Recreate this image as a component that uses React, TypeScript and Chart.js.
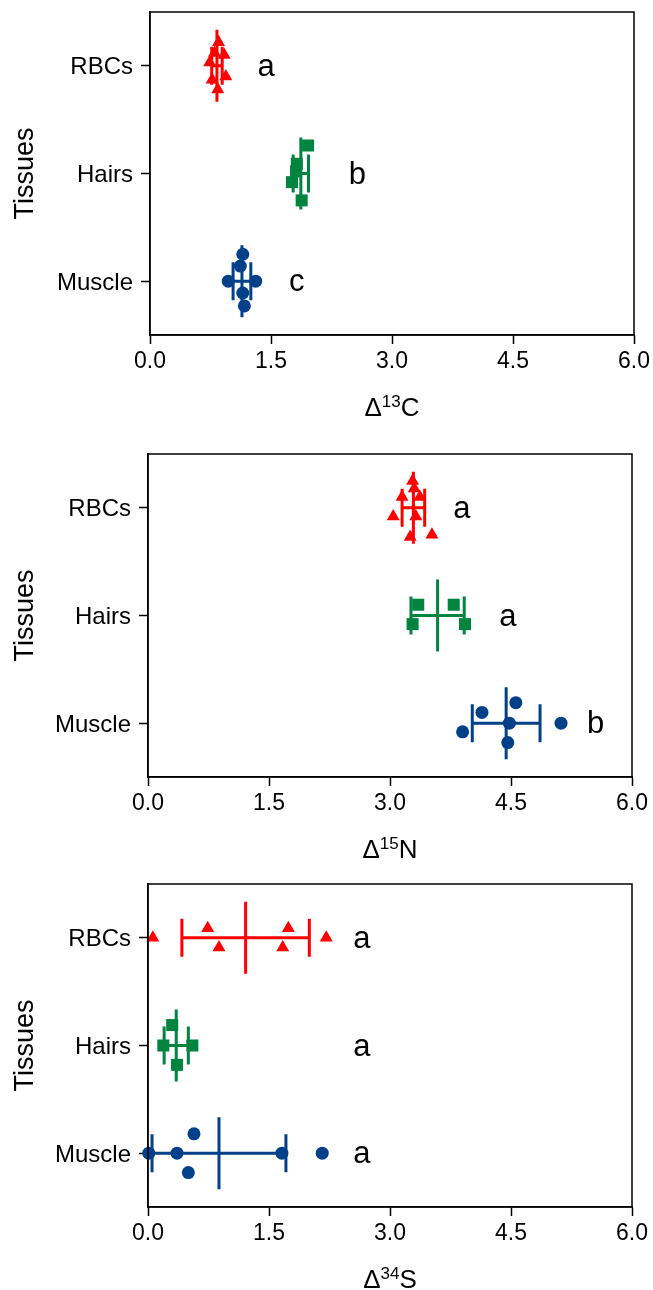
import React, { useEffect, useRef } from "react";
import { Chart, registerables } from "chart.js";

Chart.register(...registerables);

const FONT = "'Liberation Sans', Arial, Helvetica, sans-serif";

const TISSUES = ["Muscle", "Hairs", "RBCs"];
const X_TICKS = [0, 1.5, 3, 4.5, 6];

// ---- Δ13C ----
const C_MUSCLE_X = [1.15, 1.12, 0.97, 1.31, 1.15, 1.17];
const C_MUSCLE_J = [0.25, 0.14, 0.0, 0.0, -0.11, -0.23];
const C_HAIRS_X = [1.96, 1.82, 1.81, 1.76, 1.88];
const C_HAIRS_J = [0.26, 0.09, 0.02, -0.08, -0.25];
const C_RBCS_X = [0.85, 0.92, 0.74, 0.94, 0.77, 0.84, 0.8];
const C_RBCS_J = [0.22, 0.1, 0.03, -0.1, -0.13, -0.22, 0.12];
const C_MEANS = [1.14, 1.87, 0.83];
const C_SDS = [0.11, 0.095, 0.065];
const C_LETTERS = ["c", "b", "a"];
const C_LETTER_X = [1.82, 2.57, 1.44];

// ---- Δ15N ----
const N_MUSCLE_X = [4.14, 4.56, 3.9, 4.48, 4.46, 5.12];
const N_MUSCLE_J = [0.1, 0.19, -0.08, 0.0, -0.18, 0.0];
const N_HAIRS_X = [3.35, 3.79, 3.28, 3.93];
const N_HAIRS_J = [0.1, 0.1, -0.08, -0.08];
const N_RBCS_X = [3.28, 3.3, 3.15, 3.37, 3.04, 3.32, 3.25, 3.52];
const N_RBCS_J = [0.25, 0.18, 0.1, 0.1, -0.08, -0.08, -0.27, -0.25];
const N_MEANS = [4.44, 3.59, 3.29];
const N_SDS = [0.42, 0.33, 0.14];
const N_LETTERS = ["b", "a", "a"];
const N_LETTER_X = [5.55, 4.46, 3.89];

// ---- Δ34S ----
const S_MUSCLE_X = [0.01, 0.36, 0.57, 0.5, 1.66, 2.16];
const S_MUSCLE_J = [0.0, 0.0, 0.18, -0.18, 0.0, 0.0];
const S_HAIRS_X = [0.3, 0.19, 0.55, 0.36];
const S_HAIRS_J = [0.19, 0.0, 0.0, -0.18];
const S_RBCS_X = [0.06, 0.74, 0.88, 1.74, 1.67, 2.21];
const S_RBCS_J = [0.0, 0.09, -0.09, 0.09, -0.09, 0.0];
const S_MEANS = [0.88, 0.35, 1.21];
const S_SDS = [0.83, 0.15, 0.79];
const S_LETTERS = ["a", "a", "a"];
const S_LETTER_X = [2.65, 2.65, 2.65];

const COLORS = ["#02408a", "#00843f", "#ff0000"];
const STYLES = ["circle", "rect", "triangle"];
const RADII = [6.5, 8.5, 7.5];

type Panel = {
  iso: string;
  xs: number[][];
  js: number[][];
  means: number[];
  sds: number[];
  letters: string[];
  letterX: number[];
  top: number;
  yw: number;
  right: number;
};

const PANELS: Panel[] = [
  { iso: "13", xs: [C_MUSCLE_X, C_HAIRS_X, C_RBCS_X], js: [C_MUSCLE_J, C_HAIRS_J, C_RBCS_J], means: C_MEANS, sds: C_SDS, letters: C_LETTERS, letterX: C_LETTER_X, top: 0, yw: 150, right: 19 },
  { iso: "15", xs: [N_MUSCLE_X, N_HAIRS_X, N_RBCS_X], js: [N_MUSCLE_J, N_HAIRS_J, N_RBCS_J], means: N_MEANS, sds: N_SDS, letters: N_LETTERS, letterX: N_LETTER_X, top: 442, yw: 148, right: 21 },
  { iso: "34", xs: [S_MUSCLE_X, S_HAIRS_X, S_RBCS_X], js: [S_MUSCLE_J, S_HAIRS_J, S_RBCS_J], means: S_MEANS, sds: S_SDS, letters: S_LETTERS, letterX: S_LETTER_X, top: 872, yw: 148, right: 21 },
];
const ELEMENTS = ["C", "N", "S"];

function PanelChart({ p, el }: { p: Panel; el: string }) {
  const ref = useRef<HTMLCanvasElement | null>(null);
  useEffect(() => {
    if (!ref.current) return;
    const overlay = {
      id: "overlay",
      afterDatasetsDraw(chart: any) {
        const { ctx, scales } = chart;
        const xs = scales.x, ys = scales.y;
        ctx.save();
        ctx.lineWidth = 3;
        for (let i = 0; i < TISSUES.length; i++) {
          const yc = ys.getPixelForValue(i);
          const m = xs.getPixelForValue(p.means[i]);
          const lo = xs.getPixelForValue(p.means[i] - p.sds[i]);
          const hi = xs.getPixelForValue(p.means[i] + p.sds[i]);
          ctx.strokeStyle = COLORS[i];
          ctx.beginPath();
          ctx.moveTo(lo, yc); ctx.lineTo(hi, yc);
          ctx.moveTo(lo, yc - 19); ctx.lineTo(lo, yc + 19);
          ctx.moveTo(hi, yc - 19); ctx.lineTo(hi, yc + 19);
          ctx.moveTo(m, yc - 36); ctx.lineTo(m, yc + 36);
          ctx.stroke();
          ctx.fillStyle = "#000";
          ctx.font = `31px ${FONT}`;
          ctx.textAlign = "center";
          ctx.textBaseline = "alphabetic";
          ctx.fillText(p.letters[i], xs.getPixelForValue(p.letterX[i]), yc + 10);
        }
        ctx.restore();
      },
      afterDraw(chart: any) {
        const { ctx, chartArea } = chart;
        ctx.save();
        ctx.strokeStyle = "#000";
        ctx.lineWidth = 1.5;
        ctx.strokeRect(chartArea.left, chartArea.top, chartArea.right - chartArea.left, chartArea.bottom - chartArea.top);
        const big = `26px ${FONT}`, small = `17px ${FONT}`;
        ctx.fillStyle = "#000";
        ctx.textBaseline = "alphabetic";
        ctx.textAlign = "left";
        ctx.font = big;
        const wD = ctx.measureText("Δ").width;
        const wE = ctx.measureText(el).width;
        ctx.font = small;
        const wS = ctx.measureText(p.iso).width;
        const total = wD + wS + wE;
        const cx = (chartArea.left + chartArea.right) / 2;
        let x = cx - total / 2;
        const base = chartArea.bottom + 81;
        ctx.font = big;
        ctx.fillText("Δ", x, base);
        x += wD;
        ctx.font = small;
        ctx.fillText(p.iso, x, base - 9);
        x += wS;
        ctx.font = big;
        ctx.fillText(el, x, base);
        ctx.restore();
      },
    };
    const datasets = TISSUES.map((t, i) => ({
      label: t,
      data: p.xs[i].map((v, k) => ({ x: v, y: i + p.js[i][k] })),
      pointStyle: STYLES[i],
      pointRadius: RADII[i],
      pointBackgroundColor: COLORS[i],
      pointBorderColor: COLORS[i],
      pointBorderWidth: 0,
      showLine: false,
      clip: false as any,
    }));
    const chart = new Chart(ref.current, {
      type: "scatter",
      data: { datasets: datasets as any },
      options: {
        responsive: false,
        animation: false,
        layout: { padding: { top: 12, right: p.right, left: 0, bottom: 0 } },
        plugins: { legend: { display: false }, tooltip: { enabled: false } },
        scales: {
          x: {
            type: "linear",
            min: 0,
            max: 6,
            afterBuildTicks: (s: any) => { s.ticks = X_TICKS.map((v) => ({ value: v })); },
            afterFit: (s: any) => { s.height = 95; s.paddingLeft = 0; s.paddingRight = 0; },
            ticks: { callback: (v: any) => Number(v).toFixed(1), font: { family: FONT, size: 23 }, color: "#000", padding: 4, maxRotation: 0 },
            grid: { drawOnChartArea: false, tickLength: 9, tickWidth: 1.5, tickColor: "#000" },
            border: { display: true, color: "#000", width: 1.5 },
          },
          y: {
            type: "linear",
            min: -0.5,
            max: 2.5,
            afterBuildTicks: (s: any) => { s.ticks = TISSUES.map((_, i) => ({ value: i })); },
            afterFit: (s: any) => { s.width = p.yw; s.paddingTop = 0; s.paddingBottom = 0; },
            ticks: { callback: (v: any) => TISSUES[v], font: { family: FONT, size: 24 }, color: "#000", padding: 8, labelOffset: 2 },
            grid: { drawOnChartArea: false, tickLength: 9, tickWidth: 1.5, tickColor: "#000" },
            border: { display: true, color: "#000", width: 1.5 },
            title: { display: true, text: "Tissues", font: { family: FONT, size: 27 }, color: "#000", padding: { top: 9, bottom: 0 } },
          },
        },
      } as any,
      plugins: [overlay],
    });
    return () => chart.destroy();
  }, []);
  return (
    <div style={{ position: "absolute", left: 0, top: p.top, width: 653, height: 430 }}>
      <canvas ref={ref} width={653} height={430} style={{ display: "block" }} />
    </div>
  );
}

export default function App() {
  return (
    <div style={{ position: "absolute", left: 0, top: 0, width: 653, height: 1290, background: "#fff" }}>
      {PANELS.map((p, i) => (
        <PanelChart key={i} p={p} el={ELEMENTS[i]} />
      ))}
    </div>
  );
}
